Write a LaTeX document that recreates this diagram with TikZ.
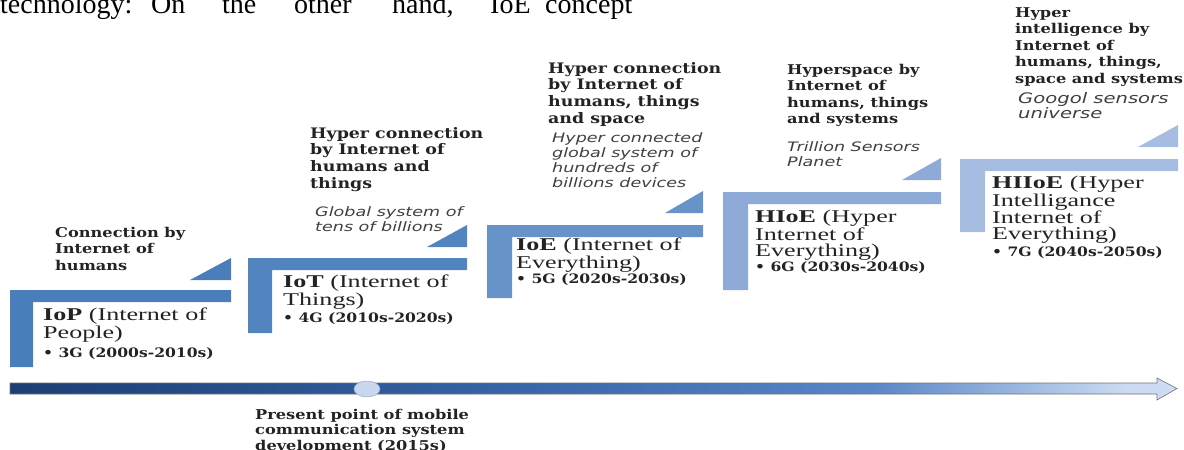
\documentclass[tikz,border=0pt]{standalone}
\usepackage{fontspec}
\usetikzlibrary{shapes.geometric}
\setmainfont{Liberation Serif}
\newfontfamily\lblfont[FakeStretch=1.45]{Liberation Serif}
\newfontfamily\hdfont[FakeStretch=1.2]{DejaVu Serif}
\newfontfamily\itfont[FakeStretch=1.35]{DejaVu Sans}
\definecolor{sA}{RGB}{74,126,187}
\definecolor{sB}{RGB}{82,132,191}
\definecolor{sC}{RGB}{104,147,200}
\definecolor{sD}{RGB}{142,170,214}
\definecolor{sE}{RGB}{166,188,224}
\definecolor{arA}{RGB}{28,62,115}
\definecolor{arB}{RGB}{52,98,165}
\definecolor{arC}{RGB}{90,135,200}
\definecolor{arD}{RGB}{205,220,242}
\definecolor{txt}{RGB}{35,35,35}
\definecolor{nowfill}{RGB}{200,215,238}
\definecolor{nowdraw}{RGB}{150,170,200}
\pgfdeclarehorizontalshading{timeline}{100bp}{color(0bp)=(arA); color(25bp)=(arA); color(45bp)=(arB); color(62bp)=(arC); color(73bp)=(arD); color(75bp)=(arD); color(100bp)=(arD)}
\tikzset{
  hd/.style={anchor=north west, inner sep=0pt, align=left, text=txt,
    font=\hdfont\bfseries\fontsize{13.5}{16.5}\selectfont},
  hdbig/.style={hd, font=\hdfont\bfseries\fontsize{14.5}{16.7}\selectfont},
  itx/.style={anchor=north west, inner sep=0pt, align=left, text=black!75,
    font=\itfont\itshape\fontsize{13}{15}\selectfont},
  itbig/.style={itx, font=\itfont\itshape\fontsize{14.5}{15}\selectfont},
  lbl/.style={anchor=north west, inner sep=0pt, align=left, text=txt,
    font=\lblfont\fontsize{18}{16}\selectfont},
  yr/.style={anchor=north west, inner sep=0pt, text=txt,
    font=\hdfont\bfseries\fontsize{13}{15}\selectfont},
  tw/.style={anchor=base west, inner sep=0pt, font=\fontsize{28}{32}\selectfont},
}
\newcommand{\stepL}[8]{%
  \fill[#8] (#1,#2) -- (#4,#2) -- (#4,#2+12) -- (#5,#2+12) -- (#5,#6) -- (#1,#6) -- cycle;
  \fill[#8] (#7,#3) -- (#4,#3) -- (#4,#3-22) -- cycle;
}
\begin{document}
\begin{tikzpicture}[x=1pt,y=-1pt]
\useasboundingbox (0,0) rectangle (1184,450);
\begin{scope}
\clip (0,0) rectangle (1184,450);
% cut-off line of running text above the figure
\node[tw] (tw1) at (0,13) {technology:};
\node[tw] (tw2) at (151,13) {On};
\node[tw] (tw3) at (222,13) {the};
\node[tw] (tw4) at (294,13) {other};
\node[tw] (tw5) at (392,13) {hand,};
\node[tw] (tw6) at (490,13) {IoE};
\node[tw] (tw7) at (545,13) {concept};

% steps
\stepL{10}{290}{280}{231}{33}{367}{190}{sA}
\stepL{248}{258}{247}{467}{272}{333}{427}{sB}
\stepL{487}{225}{213}{703}{512}{298}{665}{sC}
\stepL{723}{192}{180}{941}{748}{290}{902}{sD}
\stepL{960}{159}{147}{1178}{985}{232}{1138}{sE}

% headings
\node[hd] (h1) at (55,227) {Connection by\\Internet of\\humans};
\node[hdbig] (h2) at (310,127) {Hyper connection\\by Internet of\\humans and\\things};
\node[hdbig] (h3) at (548,62) {Hyper connection\\by Internet of\\humans, things\\and space};
\node[hd] (h4) at (787,64) {Hyperspace by\\Internet of\\humans, things\\and systems};
\node[hd] (h5) at (1015,7) {Hyper\\intelligence by\\Internet of\\humans, things,\\space and systems};

% italic descriptions
\node[itx] (d2) at (315,206) {Global system of\\tens of billions};
\node[itx] (d3) at (552,132) {Hyper connected\\global system of\\hundreds of\\billions devices};
\node[itx] (d4) at (787,141) {Trillion Sensors\\Planet};
\node[itbig] (d5) at (1018,92) {Googol sensors\\universe};

% labels
\node[lbl] (l1) at (43,308) {\textbf{IoP} (Internet of\\People)};
\node[lbl] (l2) at (283,275) {\textbf{IoT} (Internet of\\Things)};
\node[lbl] (l3) at (516,238) {\textbf{IoE} (Internet of\\Everything)};
\node[lbl] (l4) at (755,210) {\textbf{HIoE} (Hyper\\Internet of\\Everything)};
\node[lbl] (l5) at (992,176) {\textbf{HIIoE} (Hyper\\Intelligance\\Internet of\\Everything)};

\node[yr] (y1) at (43,347) {\textbullet\ 3G (2000s-2010s)};
\node[yr] (y2) at (283,312) {\textbullet\ 4G (2010s-2020s)};
\node[yr] (y3) at (516,273) {\textbullet\ 5G (2020s-2030s)};
\node[yr] (y4) at (755,261) {\textbullet\ 6G (2030s-2040s)};
\node[yr] (y5) at (992,246) {\textbullet\ 7G (2040s-2050s)};

% timeline arrow
\path[shading=timeline, draw=black!55, line width=0.6pt]
  (10,383) -- (1157,383) -- (1157,378) -- (1177,388.5) -- (1157,400) -- (1157,394) -- (10,394) -- cycle;
\node[ellipse, minimum width=26pt, minimum height=16pt, inner sep=0pt, fill=nowfill, draw=nowdraw, line width=0.5pt] (now) at (367,389) {};

\node[anchor=north west, inner sep=0pt, align=left, text=txt, font=\hdfont\bfseries\fontsize{13.5}{15.5}\selectfont] (present) at (255,409)
  {Present point of mobile\\communication system\\development (2015s)};
\end{scope}
\end{tikzpicture}
\end{document}
